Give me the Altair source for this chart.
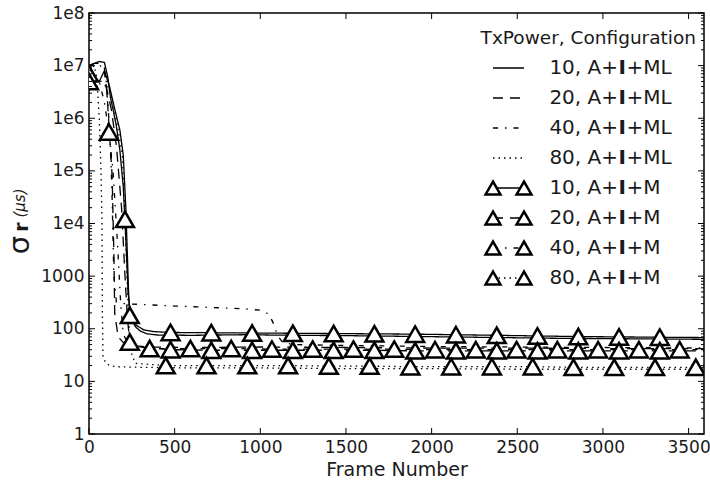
import altair as alt
import pandas as pd

FONT = "DejaVu Sans"
W, H = 615, 421

# ---------------- data ----------------
# A+I+ML series (lines only)
ml10_frames = [0, 30, 60, 90, 110, 125, 140, 160, 180, 200, 215, 228, 245, 270, 300, 340, 400, 600, 900, 1200, 1500, 1800, 2100, 2400, 2700, 3000, 3300, 3590]
ml10_values = [9e6, 1.1e7, 1.2e7, 1.15e7, 6e6, 2.5e6, 1.5e6, 7e5, 2.5e5, 5e4, 5e3, 500, 160, 110, 90, 80, 76, 75, 77, 75, 74, 72, 70, 68, 66, 65, 64, 63]

ml20_frames = [0, 30, 60, 90, 105, 120, 135, 146, 150, 170, 200, 260, 350, 600, 1000, 1500, 2000, 2500, 3000, 3590]
ml20_values = [1e7, 1.1e7, 1.1e7, 9e6, 3e6, 5e5, 8e4, 2e3, 200, 70, 55, 48, 45, 44, 45, 44, 43, 43, 42, 42]

ml40_frames = [0, 30, 60, 90, 110, 125, 135, 145, 160, 200, 300, 500, 700, 900, 1000, 1050, 1080, 1100, 1130, 1200, 1500, 2000, 2500, 3000, 3590]
ml40_values = [1e7, 1.1e7, 1.05e7, 8e6, 2e6, 3e5, 3e4, 1e3, 320, 300, 290, 270, 255, 240, 225, 190, 120, 75, 55, 50, 48, 46, 45, 44, 43]

ml80_frames = [0, 30, 45, 60, 70, 76, 78, 82, 95, 120, 160, 300, 600, 1000, 1500, 2000, 2500, 3000, 3590]
ml80_values = [8e6, 1e7, 6e6, 1e6, 1e5, 1e4, 200, 30, 23, 20, 19, 18.5, 18, 18, 17.5, 17.5, 17, 17, 17]

# A+I+M series (lines + triangle markers)
m10_frames = [0, 60, 90, 120, 150, 180, 200, 215, 225, 232, 238, 270, 320, 380, 476, 714, 952, 1190, 1428, 1666, 1904, 2142, 2380, 2618, 2856, 3094, 3332, 3590]
m10_values = [7e6, 5e6, 8e6, 4e6, 1.5e6, 6e5, 2e5, 2e4, 2e3, 400, 180, 120, 95, 88, 85, 84, 83, 82, 81, 80, 79, 77, 75, 73, 71, 70, 69, 68]
m10_mark_frames = [0, 238, 476, 714, 952, 1190, 1428, 1666, 1904, 2142, 2380, 2618, 2856, 3094, 3332]
m10_mark_values = [7e6, 180, 85, 84, 83, 82, 81, 80, 79, 77, 75, 73, 71, 70, 69]

m20_frames = [0, 60, 100, 130, 160, 190, 210, 225, 238, 300, 476, 714, 952, 1190, 1428, 1666, 1904, 2142, 2380, 2618, 2856, 3094, 3332, 3590]
m20_values = [5e6, 5e6, 4e6, 1.5e6, 3e5, 2e4, 1e3, 150, 56, 45, 40, 39, 39, 39, 39, 39, 38, 38, 38, 38, 38, 38, 38, 38]
m20_mark_frames = [0, 238, 476, 714, 952, 1190, 1428, 1666, 1904, 2142, 2380, 2618, 2856, 3094, 3332]
m20_mark_values = [5e6, 56, 40, 39, 39, 39, 39, 39, 38, 38, 38, 38, 38, 38, 38]

m40_frames = [0, 60, 90, 116, 140, 165, 185, 200, 230, 354, 592, 830, 1068, 1306, 1544, 1782, 2020, 2258, 2496, 2734, 2972, 3210, 3448, 3590]
m40_values = [5e6, 5e6, 2e6, 5.5e5, 1e5, 5e3, 300, 80, 50, 42, 42, 42, 41, 41, 41, 41, 40, 40, 40, 40, 40, 40, 40, 40]
m40_mark_frames = [116, 354, 592, 830, 1068, 1306, 1544, 1782, 2020, 2258, 2496, 2734, 2972, 3210, 3448]
m40_mark_values = [5.5e5, 42, 42, 42, 41, 41, 41, 41, 40, 40, 40, 40, 40, 40, 40]

m80_frames = [0, 60, 100, 140, 170, 195, 210, 225, 240, 270, 448, 686, 924, 1162, 1400, 1638, 1876, 2114, 2352, 2590, 2828, 3066, 3304, 3542, 3590]
m80_values = [5e6, 5e6, 5e6, 2e6, 6e5, 2e5, 1.2e4, 500, 40, 22, 20, 20, 20, 20, 19.5, 19.5, 19, 19, 19, 19, 18.5, 18.5, 18.5, 18.5, 18.5]
m80_mark_frames = [210, 448, 686, 924, 1162, 1400, 1638, 1876, 2114, 2352, 2590, 2828, 3066, 3304, 3542]
m80_mark_values = [1.2e4, 20, 20, 20, 20, 19.5, 19.5, 19, 19, 19, 19, 18.5, 18.5, 18.5, 18.5]

x_tick_values = [0, 500, 1000, 1500, 2000, 2500, 3000, 3500]
y_tick_values = [1, 10, 100, 1000, 1e4, 1e5, 1e6, 1e7, 1e8]
y_minor_values = [m * d for d in [1, 10, 100, 1000, 1e4, 1e5, 1e6, 1e7] for m in range(2, 10)]

legend_title = "TxPower, Configuration"
legend_prefix = ["10, A+", "20, A+", "40, A+", "80, A+", "10, A+", "20, A+", "40, A+", "80, A+"]
legend_suffix = ["+ML", "+ML", "+ML", "+ML", "+M", "+M", "+M", "+M"]
legend_dash = ["solid", "dashed", "dashdot", "dotted", "solid", "dashed", "dashdot", "dotted"]
legend_marker = [False, False, False, False, True, True, True, True]

# ---------------- tables ----------------
rows = []
def add_line(name, dash, frames, values):
    for i, (f, v) in enumerate(zip(frames, values)):
        rows.append(dict(series=name, dash=dash, frame=f, value=v, idx=i))

add_line("10 ML", "solid", ml10_frames, ml10_values)
add_line("20 ML", "dashed", ml20_frames, ml20_values)
add_line("40 ML", "dashdot", ml40_frames, ml40_values)
add_line("80 ML", "dotted", ml80_frames, ml80_values)
add_line("10 M", "solid", m10_frames, m10_values)
add_line("20 M", "dashed", m20_frames, m20_values)
add_line("40 M", "dashdot", m40_frames, m40_values)
add_line("80 M", "dotted", m80_frames, m80_values)
line_df = pd.DataFrame(rows)

mrows = []
for fr, vals in [(m10_mark_frames, m10_mark_values), (m20_mark_frames, m20_mark_values),
                 (m40_mark_frames, m40_mark_values), (m80_mark_frames, m80_mark_values)]:
    for f, v in zip(fr, vals):
        mrows.append(dict(frame=f, value=v))
mark_df = pd.DataFrame(mrows)

xscale = alt.Scale(domain=[0, 3590], nice=False, zero=False)
yscale = alt.Scale(type="log", domain=[1, 1e8], nice=False)
dash_scale = alt.Scale(domain=["solid", "dashed", "dashdot", "dotted"],
                       range=[[1, 0], [10, 7], [5, 7, 1.5, 7], [1.5, 4]])

TXT = "#1a1a1a"
x_axis = alt.Axis(values=x_tick_values, format="d", title="Frame Number", ticks=False, domain=False,
                  grid=False, labelFont=FONT, labelFontSize=17, labelColor=TXT,
                  labelPadding=5, titleFont=FONT, titleFontSize=19, titleFontWeight="normal",
                  titleColor=TXT, titlePadding=5, labelFlush=False)
y_axis = alt.Axis(values=y_tick_values, title=None, ticks=False, domain=False, grid=False,
                  labelFont=FONT, labelFontSize=17, labelColor=TXT, labelPadding=5,
                  labelFlush=False,
                  labelExpr="datum.value < 10000 ? format(datum.value, 'd') : '1e' + format(log(datum.value)/LN10, '.0f')")

X_F = alt.X("frame:Q", scale=xscale, axis=x_axis, title="Frame Number")
Y_V = alt.Y("value:Q", scale=yscale, axis=y_axis, title=None)

lines = alt.Chart(line_df).mark_line(clip=True, color="black", strokeWidth=1.3).encode(
    x=X_F, y=Y_V,
    detail="series:N",
    order="idx:Q",
    strokeDash=alt.StrokeDash("dash:N", scale=dash_scale, legend=None),
)

markers = alt.Chart(mark_df).mark_point(
    shape="triangle-up", size=320, filled=True, fill="white", stroke="black",
    strokeWidth=2.5, opacity=1, clip=True
).encode(x=X_F, y=Y_V)

# inside ticks
ymaj = pd.DataFrame({"value": y_tick_values})
ymin = pd.DataFrame({"value": y_minor_values})
xmaj = pd.DataFrame({"frame": x_tick_values})

def yticks(df, x1, x2):
    return alt.Chart(df).mark_rule(color="black", strokeWidth=1).encode(
        y=Y_V, x=alt.value(x1), x2=alt.value(x2))

def xticks(df, y1, y2):
    return alt.Chart(df).mark_rule(color="black", strokeWidth=1).encode(
        x=X_F, y=alt.value(y1), y2=alt.value(y2))

tick_layers = [
    yticks(ymaj, 0, 6), yticks(ymaj, W - 6, W),
    yticks(ymin, 0, 3), yticks(ymin, W - 3, W),
    xticks(xmaj, H - 6, H), xticks(xmaj, 0, 6),
]

# manual legend (pixel positions inside plot area)
row_y = [55 + 30 * i for i in range(8)]
leg_df = pd.DataFrame({"py": row_y, "prefix": legend_prefix, "suffix": legend_suffix,
                       "dash": legend_dash, "marker": legend_marker})
x_i = 533.2
LF = 20
leg_title = alt.Chart(pd.DataFrame({"t": [legend_title]})).mark_text(
    font=FONT, fontSize=18.5, align="right", baseline="middle", color=TXT
).encode(x=alt.value(607), y=alt.value(25), text="t:N")
leg_pre = alt.Chart(leg_df).mark_text(font=FONT, fontSize=LF, align="right", baseline="middle", color=TXT).encode(
    x=alt.value(x_i - 4.2), y=alt.Y("py:Q", scale=None, axis=None), text="prefix:N")
leg_I = alt.Chart(leg_df).mark_text(font=FONT, fontSize=LF, fontWeight="bold", align="center", baseline="middle", color=TXT).encode(
    x=alt.value(x_i), y=alt.Y("py:Q", scale=None, axis=None), text=alt.value("I"))
leg_suf = alt.Chart(leg_df).mark_text(font=FONT, fontSize=LF, align="left", baseline="middle", color=TXT).encode(
    x=alt.value(x_i + 4.2), y=alt.Y("py:Q", scale=None, axis=None), text="suffix:N")
leg_line = alt.Chart(leg_df).mark_rule(color="black", strokeWidth=1.3).encode(
    x=alt.value(404), x2=alt.value(435), y=alt.Y("py:Q", scale=None, axis=None),
    strokeDash=alt.StrokeDash("dash:N", scale=dash_scale, legend=None))
leg_m_df = leg_df[leg_df["marker"]]
leg_tri1 = alt.Chart(leg_m_df).mark_point(shape="triangle-up", size=220, filled=True, fill="white",
                                          stroke="black", strokeWidth=2.5, opacity=1).encode(
    x=alt.value(404), y=alt.Y("py:Q", scale=None, axis=None))
leg_tri2 = alt.Chart(leg_m_df).mark_point(shape="triangle-up", size=220, filled=True, fill="white",
                                          stroke="black", strokeWidth=2.5, opacity=1).encode(
    x=alt.value(435), y=alt.Y("py:Q", scale=None, axis=None))

# y-axis title: sigma_r (mu s)
one = pd.DataFrame({"a": [0]})
t_sigma = alt.Chart(one).mark_text(font=FONT, fontSize=29, angle=270, align="center", baseline="middle", color=TXT).encode(
    x=alt.value(-69), y=alt.value(232), text=alt.value("σ"))
t_r = alt.Chart(one).mark_text(font=FONT, fontSize=19, fontWeight="bold", angle=270, align="center", baseline="middle", color=TXT).encode(
    x=alt.value(-67), y=alt.value(214), text=alt.value("r"))
t_unit = alt.Chart(one).mark_text(font=FONT, fontSize=15, fontStyle="italic", angle=270, align="center", baseline="middle", color=TXT).encode(
    x=alt.value(-69), y=alt.value(190), text=alt.value("(μs)"))

chart = alt.layer(
    lines, markers, *tick_layers,
    leg_title, leg_line, leg_tri1, leg_tri2, leg_pre, leg_I, leg_suf,
    t_sigma, t_r, t_unit,
).properties(
    width=W, height=H,
    padding={"left": 89, "top": 13, "right": 6, "bottom": 53},
    autosize=alt.AutoSizeParams(type="none"),
    background="white",
).configure_view(stroke="black", strokeWidth=1.5)

chart.save("out.html", embed_options={"renderer": "svg", "actions": False})
